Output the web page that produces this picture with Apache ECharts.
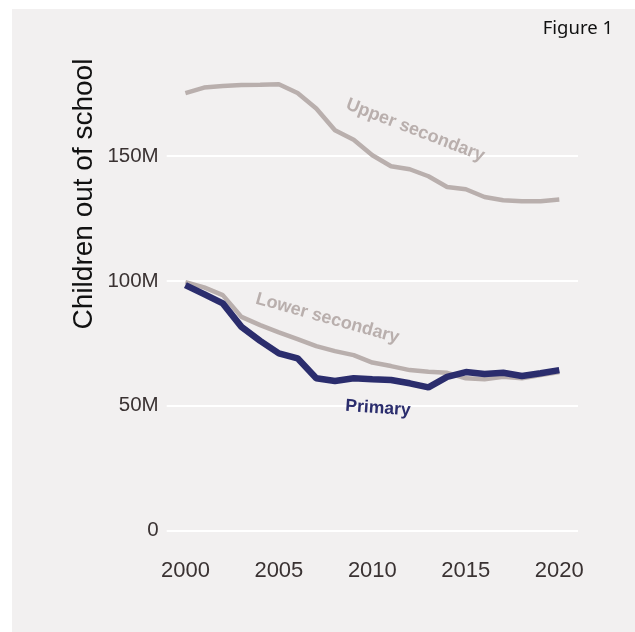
<!DOCTYPE html>
<html>
<head>
<meta charset="utf-8">
<script src="https://cdn.jsdelivr.net/npm/echarts@6/dist/echarts.min.js"></script>
<style>
html,body{margin:0;padding:0;background:#ffffff;}
#chart{width:635px;height:632px;}
</style>
</head>
<body>
<div id="chart"></div>
<script>
const years = [2000,2001,2002,2003,2004,2005,2006,2007,2008,2009,2010,2011,2012,2013,2014,2015,2016,2017,2018,2019,2020];
const upperSecondary = [175.2,177.4,178.0,178.4,178.5,178.7,175.2,169.0,160.3,156.5,150.3,145.9,144.7,141.9,137.6,136.7,133.6,132.3,131.9,131.9,132.6];
const lowerSecondary = [99.5,97.4,94.3,85.6,82.3,79.4,76.7,73.9,71.9,70.3,67.3,65.9,64.3,63.6,63.2,61.0,60.6,61.6,61.0,62.3,63.5];
const primary = [98.3,94.7,91.0,81.6,76.0,71.0,69.0,61.0,59.9,61.0,60.6,60.3,59.0,57.4,61.6,63.5,62.7,63.2,61.9,63.0,64.3];
const yTicks = [0,50,100,150];
const xTickYears = [2000,2005,2010,2015,2020];

const GRAY = '#b9afad';
const NAVY = '#2b2d6d';
const sans = "'Liberation Sans',Arial,sans-serif";

const pairs = arr => years.map((y,i)=>[y,arr[i]]);

const chart = echarts.init(document.getElementById('chart'));
const option = {
  backgroundColor: '#ffffff',
  animation: false,
  grid: {left:166.7, right:57, top:156, bottom:101.3, containLabel:false},
  xAxis: {
    type:'value', min:1999, max:2021, interval:1,
    axisLine:{show:false}, axisTick:{show:false}, splitLine:{show:false},
    axisLabel:{
      margin:29, fontSize:22, color:'#3a3232', fontFamily:sans,
      formatter: v => xTickYears.indexOf(v) >= 0 ? String(v) : ''
    }
  },
  yAxis: {
    type:'value', min:0, max:150, interval:50,
    axisLine:{show:false}, axisTick:{show:false},
    splitLine:{show:true, lineStyle:{color:'#ffffff', width:2}},
    axisLabel:{
      margin:8, fontSize:20.5, color:'#3a3232', fontFamily:sans,
      formatter: v => yTicks.indexOf(v) >= 0 ? (v === 0 ? '0' : v + 'M') : ''
    }
  },
  series: [
    {name:'Upper secondary', type:'line', data:pairs(upperSecondary), showSymbol:false, clip:false,
     lineStyle:{color:GRAY, width:4.5}, z:2},
    {name:'Lower secondary', type:'line', data:pairs(lowerSecondary), showSymbol:false, clip:false,
     lineStyle:{color:GRAY, width:4.5}, z:3},
    {name:'Primary', type:'line', data:pairs(primary), showSymbol:false, clip:false,
     lineStyle:{color:NAVY, width:6.5}, z:4}
  ]
};
chart.setOption(option);

function px(x,y){ return chart.convertToPixel({gridIndex:0},[x,y]); }
const pU = px(2012.3,160.3);
const pL = px(2007.6,85);
const pP = px(2010.3,49);

chart.setOption({
  graphic: [
    {type:'rect', silent:true, z:-100, zlevel:0, shape:{x:12,y:9,width:623,height:623}, style:{fill:'#f2f0f0'}},
    {type:'text', x:613, y:29, style:{text:'Figure 1', fontSize:18.5, fill:'#111111', fontFamily:"'Noto Sans',sans-serif", align:'right', verticalAlign:'middle'}},
    {type:'text', x:84, y:194, rotation:Math.PI/2, style:{text:'Children out of school', fontSize:28, fill:'#111111', fontFamily:sans, align:'center', verticalAlign:'middle'}},
    {type:'text', x:pU[0], y:pU[1], rotation:-21*Math.PI/180, style:{text:'Upper secondary', fontSize:18, fill:GRAY, fontWeight:'bold', fontFamily:sans, align:'center', verticalAlign:'middle'}},
    {type:'text', x:pL[0], y:pL[1], rotation:-15.5*Math.PI/180, style:{text:'Lower secondary', fontSize:18, fill:GRAY, fontWeight:'bold', fontFamily:sans, align:'center', verticalAlign:'middle'}},
    {type:'text', x:pP[0], y:pP[1], rotation:-4*Math.PI/180, style:{text:'Primary', fontSize:17.5, fill:NAVY, fontWeight:'bold', fontFamily:sans, align:'center', verticalAlign:'middle'}}
  ]
});
</script>
</body>
</html>
